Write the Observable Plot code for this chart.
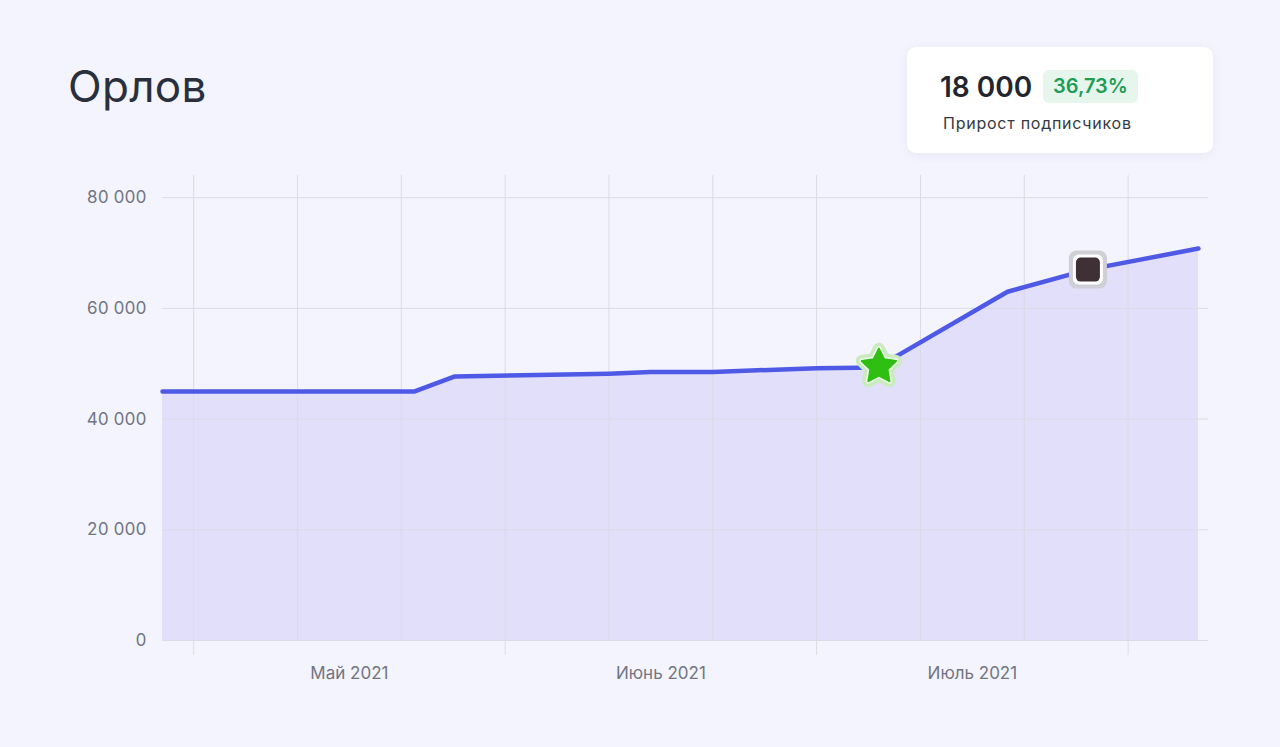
<!DOCTYPE html>
<html>
<head>
<meta charset="utf-8">
<script src="https://cdn.jsdelivr.net/npm/d3@7"></script>
<script src="https://cdn.jsdelivr.net/npm/@observablehq/plot@0.6"></script>
<style>
  html, body { margin: 0; padding: 0; }
  body { width: 1280px; height: 747px; background: #f3f4fd; position: relative; overflow: hidden; font-family: Inter, "Noto Sans", sans-serif; }
  #title { position: absolute; left: 68px; top: 64px; font-size: 44px; line-height: 1; font-weight: 400; color: #2a2f3c; letter-spacing: 0.3px; }
  #card { position: absolute; left: 907px; top: 47px; width: 306px; height: 106px; background: #fff; border-radius: 9px; box-shadow: 0 2px 10px rgba(120,125,170,0.10); }
  #total { position: absolute; left: 940px; top: 73px; font-size: 28px; line-height: 1; font-weight: 600; color: #23262f; }
  #badge { position: absolute; left: 1043px; top: 70px; width: 95px; height: 33px; border-radius: 6px; background: #e6f6ec; color: #1f9d55; font-size: 20px; font-weight: 600; line-height: 33px; text-align: center; }
  #sub { position: absolute; left: 943px; top: 115px; font-size: 16px; line-height: 1; color: #363942; letter-spacing: 0.75px; }
  #chart { position: absolute; left: 0; top: 150px; }
</style>
</head>
<body>
<div id="title"></div>
<div id="card"></div>
<div id="total"></div>
<div id="badge"></div>
<div id="sub"></div>
<div id="chart"></div>
<script>
// ---- data ----
const channelName = "Орлов";
const growthValue = "18 000";
const growthPercent = "36,73%";
const growthLabel = "Прирост подписчиков";

const dates = ["2021-04-28","2021-05-23","2021-05-27","2021-06-11","2021-06-15","2021-06-21","2021-07-01","2021-07-07","2021-07-20","2021-07-28","2021-08-08"];
const subscribers = [45000, 45000, 47700, 48200, 48500, 48500, 49200, 49300, 63000, 67000, 70800];

const markerDates = ["2021-07-07", "2021-07-28"];
const markerKinds = ["star", "square"];

const monthStarts = ["2021-05-01", "2021-06-01", "2021-07-01", "2021-08-01"];
const monthLabels = ["Май 2021", "Июнь 2021", "Июль 2021"];
const yTicks = [0, 20000, 40000, 60000, 80000];
const xDomainDates = ["2021-04-28", "2021-08-09"];

// ---- helpers ----
function toMonth(s) {
  const d = new Date(s + "T00:00:00Z");
  const y = d.getUTCFullYear(), m = d.getUTCMonth();
  const days = new Date(Date.UTC(y, m + 1, 0)).getUTCDate();
  return (y - 2021) * 12 + m - 4 + (d.getUTCDate() - 1) / days;
}
const series = dates.map((d, i) => ({t: toMonth(d), v: subscribers[i]}));
const markers = markerDates.map((d, i) => ({t: toMonth(d), v: subscribers[dates.indexOf(d)], kind: markerKinds[i]}));
const monthT = monthStarts.map(toMonth);
const minorT = monthT.slice(0, -1).flatMap(t => [t + 1/3, t + 2/3]);
const labelData = monthLabels.map((l, i) => ({t: (monthT[i] + monthT[i + 1]) / 2, label: l}));
const fmt = d3.formatLocale({decimal: ",", thousands: " ", grouping: [3], currency: ["", ""]}).format(",d");

// rounded square symbol (size = area)
const roundedSquare = {
  draw(ctx, size) {
    const w = Math.sqrt(size), h = w / 2, r = w * 0.2;
    ctx.moveTo(-h + r, -h);
    ctx.lineTo(h - r, -h); ctx.arcTo(h, -h, h, -h + r, r);
    ctx.lineTo(h, h - r); ctx.arcTo(h, h, h - r, h, r);
    ctx.lineTo(-h + r, h); ctx.arcTo(-h, h, -h, h - r, r);
    ctx.lineTo(-h, -h + r); ctx.arcTo(-h, -h, -h + r, -h, r);
    ctx.closePath();
  }
};
// plump star symbol: outer radius = sqrt(size / PI)
const plumpStar = {
  draw(ctx, size) {
    const R = Math.sqrt(size / Math.PI), ri = R * 0.5;
    for (let i = 0; i < 10; i++) {
      const a = -Math.PI / 2 + i * Math.PI / 5, rr = i % 2 ? ri : R;
      const x = rr * Math.cos(a), y = rr * Math.sin(a);
      if (i === 0) ctx.moveTo(x, y); else ctx.lineTo(x, y);
    }
    ctx.closePath();
  }
};
const sq = markers.filter(d => d.kind === "square");
const st = markers.filter(d => d.kind === "star");
const rSide = side => Math.sqrt(side * side / Math.PI);

document.getElementById("title").textContent = channelName;
document.getElementById("total").textContent = growthValue;
document.getElementById("badge").textContent = growthPercent;
document.getElementById("sub").textContent = growthLabel;

const gridColor = "#dadbe7";
const chart = Plot.plot({
  width: 1280,
  height: 540,
  marginLeft: 162,
  marginRight: 72,
  marginTop: 25,
  marginBottom: 50,
  style: {background: "transparent", fontFamily: "Inter, 'Noto Sans', sans-serif", fontSize: "17px", color: "#6b6f7b", overflow: "visible"},
  x: {domain: xDomainDates.map(toMonth), axis: null},
  y: {domain: [0, 84000], axis: null},
  marks: [
    Plot.areaY(series, {x: "t", y: "v", fill: "#e2dffb"}),
    Plot.ruleY(yTicks, {stroke: gridColor, strokeWidth: 1}),
    Plot.ruleX(minorT, {stroke: gridColor, strokeWidth: 1}),
    Plot.ruleX(monthT, {stroke: gridColor, strokeWidth: 1, insetBottom: -15}),
    Plot.axisY({ticks: yTicks, tickSize: 0, tickPadding: 16, tickFormat: fmt, label: null, fill: "#717582", fontSize: 17}),
    Plot.text(labelData, {x: "t", y: () => 0, dy: 33, text: "label", fill: "#717582", fontSize: 17}),
    Plot.line(series, {x: "t", y: "v", stroke: "#4e59e6", strokeWidth: 4.5, strokeLinejoin: "round", strokeLinecap: "round"}),
    // star marker: halo, pale rim, green body
    Plot.dot(st, {x: "t", y: "v", dx: 2, dy: -1, symbol: plumpStar, r: 18, fill: "#c9ebbd", stroke: "#c9ebbd", strokeWidth: 12, strokeLinejoin: "round"}),
    Plot.dot(st, {x: "t", y: "v", dx: 2, dy: -1, symbol: plumpStar, r: 18, fill: "#eefaea", stroke: "#eefaea", strokeWidth: 5, strokeLinejoin: "round"}),
    Plot.dot(st, {x: "t", y: "v", dx: 2, dy: -1, symbol: plumpStar, r: 18, fill: "#2fbf12", stroke: "#2fbf12", strokeWidth: 2, strokeLinejoin: "round"}),
    // square marker: grey halo, white rim, dark body
    Plot.dot(sq, {x: "t", y: "v", symbol: roundedSquare, r: rSide(38), fill: "#cfcfd8", stroke: "none"}),
    Plot.dot(sq, {x: "t", y: "v", symbol: roundedSquare, r: rSide(30), fill: "#ffffff", stroke: "none"}),
    Plot.dot(sq, {x: "t", y: "v", symbol: roundedSquare, r: rSide(24), fill: "#3e3035", stroke: "none"})
  ]
});
document.getElementById("chart").appendChild(chart);
</script>
</body>
</html>
